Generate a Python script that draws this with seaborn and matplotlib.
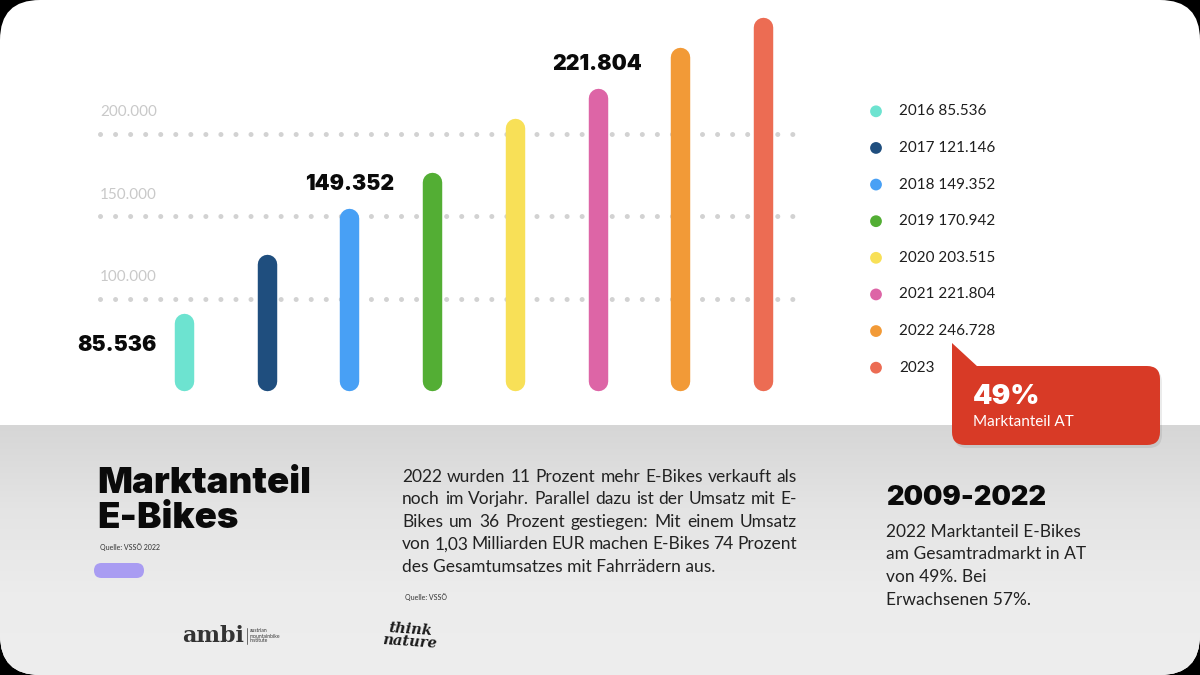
import numpy as np
import matplotlib
matplotlib.use('Agg')
import matplotlib.pyplot as plt
import seaborn as sns
import pandas as pd
from matplotlib.patches import FancyBboxPatch, Rectangle, Polygon
from matplotlib.colors import LinearSegmentedColormap

# ---------------- data ----------------
years = ['2016', '2017', '2018', '2019', '2020', '2021', '2022', '2023']
values = [85536, 121146, 149352, 170942, 203515, 221804, 246728, 265000]  # 2023 estimated from bar height
legend_values = ['85.536', '121.146', '149.352', '170.942', '203.515', '221.804', '246.728', '']
colors = ['#6de3d0', '#1f4e7e', '#48a0f5', '#53ae34', '#f8e057', '#dd65a6', '#f29a37', '#ec6c53']
tick_values = [100000, 150000, 200000]
tick_labels = ['100.000', '150.000', '200.000']
label_idx = [0, 2, 5]
label_text = ['85.536', '149.352', '221.804']
bar_base = 50000

title_lines = ['Marktanteil', 'E-Bikes']
source1 = 'Quelle: VSSÖ 2022'
para_lines = ['2022 wurden 11 Prozent mehr E-Bikes verkauft als',
              'noch im Vorjahr.  Parallel dazu ist der Umsatz mit E-',
              'Bikes um 36 Prozent gestiegen: Mit einem Umsatz',
              'von 1,03 Milliarden EUR machen E-Bikes 74 Prozent',
              'des Gesamtumsatzes mit Fahrrädern aus.']
source2 = 'Quelle: VSSÖ'
right_title = '2009-2022'
right_lines = ['2022 Marktanteil E-Bikes', 'am Gesamtradmarkt in AT', 'von 49%. Bei', 'Erwachsenen 57%.']
callout_big = '49%'
callout_small = 'Marktanteil AT'

HEAD = ['Inter', 'DejaVu Sans']
HW = 900
BODY = ['Lato', 'DejaVu Sans']

sns.set_theme(style='white')
plt.rcParams['font.family'] = BODY

fig = plt.figure(figsize=(12, 6.75), dpi=100, facecolor='black')
bg = fig.add_axes([0, 0, 1, 1], zorder=0)
bg.axis('off')
card = FancyBboxPatch((0, 0), 1200, 675, boxstyle='round,pad=0,rounding_size=40',
                      fc='white', ec='none', zorder=0)
bg.add_patch(card)
cmap = LinearSegmentedColormap.from_list('g', ['#d6d6d6', '#e4e4e4', '#ececec', '#eeeeee'])
grad = np.linspace(0, 1, 256).reshape(-1, 1)
im = bg.imshow(grad, extent=(0, 1200, 675, 425), cmap=cmap, aspect='auto', zorder=1)
im.set_clip_path(card)
bg.set_xlim(0, 1200)
bg.set_ylim(675, 0)

renderer = fig.canvas.get_renderer()

def width_of(t):
    return t.get_window_extent(renderer).width

def fit_size(text, target, base, **kw):
    t = bg.text(0, 0, text, fontsize=base, **kw)
    w = width_of(t)
    t.remove()
    return base * target / w

# ---------------- main chart ----------------
ax = fig.add_axes([100 / 1200, 250 / 675, 700 / 1200, 425 / 675], zorder=2)
ax.patch.set_alpha(0)
ax.axis('off')
ax.set_xlim(-1.0156, 7.448)
ax.set_ylim(23600, 281200)

for v, lab in zip(tick_values, tick_labels):
    ax.axhline(v, color='#d2d2d2', lw=3.6, linestyle=(0, (0.01, 3)),
               dash_capstyle='round', zorder=1, clip_on=False)
    ax.annotate(lab, xy=(0, v), xycoords=('axes fraction', 'data'), xytext=(0, 15.5),
                textcoords='offset points', ha='left', va='center', color='#c9c9c9',
                fontsize=11, family=BODY)

ax.vlines(x=np.arange(len(years)), ymin=bar_base, ymax=values, colors=colors,
          linewidth=14, capstyle='round', zorder=3)

for i, txt in zip(label_idx, label_text):
    if i == 0:
        ax.annotate(txt, xy=(i, values[i]), xytext=(-19.5, -20), textcoords='offset points',
                    ha='right', va='baseline', fontsize=15.3, weight=HW, family=HEAD,
                    color='#0a0a0a')
    else:
        ax.annotate(txt, xy=(i, values[i]), xytext=(0, 20), textcoords='offset points',
                    ha='center', va='baseline', fontsize=15.3, weight=HW, family=HEAD,
                    color='#0a0a0a')

# ---------------- legend ----------------
ax_leg = fig.add_axes([860 / 1200, (675 - 386) / 675, 260 / 1200, 293 / 675], zorder=2)
ax_leg.patch.set_alpha(0)
ax_leg.axis('off')
df_leg = pd.DataFrame({'year': years, 'pos': np.arange(len(years)), 'x': 16})
sns.scatterplot(data=df_leg, x='x', y='pos', hue='year', palette=colors, s=72,
                linewidth=0, legend=False, ax=ax_leg)
ax_leg.set_xlim(0, 260)
ax_leg.set_ylim(7.5, -0.5)
for i, (yr, val) in enumerate(zip(years, legend_values)):
    ax_leg.text(39, i, f'{yr} {val}'.strip(), va='center', ha='left', fontsize=11,
                color='#1e1e1e', family=BODY)

# ---------------- callout ----------------
bg.add_patch(FancyBboxPatch((954, 369), 208, 79, boxstyle='round,pad=0,rounding_size=13',
                            fc='black', ec='none', alpha=0.08, zorder=4))
bg.add_patch(FancyBboxPatch((952, 366), 208, 79, boxstyle='round,pad=0,rounding_size=13',
                            fc='#d83a26', ec='none', zorder=5))
bg.add_patch(Rectangle((952, 366), 20, 20, fc='#d83a26', ec='none', zorder=5))
bg.add_patch(Polygon([(952, 343), (978, 367), (952, 367)], closed=True, fc='#d83a26',
                     ec='none', zorder=5))
bg.text(973, 397, callout_big, color='white', fontsize=20, weight=HW, family=HEAD,
        va='center', ha='left', zorder=6)
bg.text(973, 422, callout_small, color='white', fontsize=11, family=BODY,
        va='center', ha='left', zorder=6)

# ---------------- bottom-left block ----------------
ts = fit_size(title_lines[0], 213, 28, weight=HW, family=HEAD)
bg.text(97, 493, title_lines[0], fontsize=ts, weight=HW, family=HEAD, color='#0a0a0a',
        va='baseline', zorder=3)
bg.text(97, 528, title_lines[1], fontsize=ts, weight=HW, family=HEAD, color='#0a0a0a',
        va='baseline', zorder=3)
bg.text(100, 547, source1, fontsize=5, color='#333333', va='center', zorder=3)
bg.add_patch(FancyBboxPatch((94, 563), 50, 15, boxstyle='round,pad=0,rounding_size=7.5',
                            fc='#a99cf2', ec='none', zorder=3))

bg.text(182, 642, 'ambi', fontsize=16, weight='bold', family=['DejaVu Serif'],
        color='#333333', va='baseline', zorder=3)
bg.plot([247, 247], [628, 644], color='#555555', lw=0.6, zorder=3)
bg.text(250, 636, 'austrian\nmountainbike\ninstitute', fontsize=3.6, color='#333333',
        va='center', ha='left', linespacing=1.0, zorder=3)
bg.text(410, 636, 'think\nnature', fontsize=10.5, style='italic', weight='bold',
        family=['DejaVu Serif'], color='#1a1a1a', ha='center', va='center',
        linespacing=0.85, rotation=-4, zorder=3)

# ---------------- middle paragraph ----------------
ps = fit_size(para_lines[-1], 311, 12, family=BODY)
baselines = [481.7, 504.2, 526.7, 549.2, 571.7]
x0, x1 = 402, 797
for k, (line, yb) in enumerate(zip(para_lines, baselines)):
    if k == len(para_lines) - 1:
        bg.text(x0, yb, line, fontsize=ps, family=BODY, color='#222222', va='baseline', zorder=3)
        continue
    words = line.split()
    tw = [bg.text(0, yb, w, fontsize=ps, family=BODY, color='#222222', va='baseline',
                  zorder=3) for w in words]
    ws = [width_of(t) for t in tw]
    gap = (x1 - x0 - sum(ws)) / (len(words) - 1)
    x = x0
    for t, w in zip(tw, ws):
        t.set_x(x)
        x += w + gap
bg.text(405, 597, source2, fontsize=5, color='#333333', va='center', zorder=3)

# ---------------- right block ----------------
rs = fit_size(right_title, 160, 22, weight=HW, family=HEAD)
bg.text(886, 505, right_title, fontsize=rs, weight=HW, family=HEAD, color='#0a0a0a',
        va='baseline', zorder=3)
rbase = [536.7, 559.4, 582.1, 604.8]
for line, yb in zip(right_lines, rbase):
    bg.text(886, yb, line, fontsize=ps, family=BODY, color='#222222', va='baseline', zorder=3)

fig.savefig('out.png', dpi=100, facecolor='black')
